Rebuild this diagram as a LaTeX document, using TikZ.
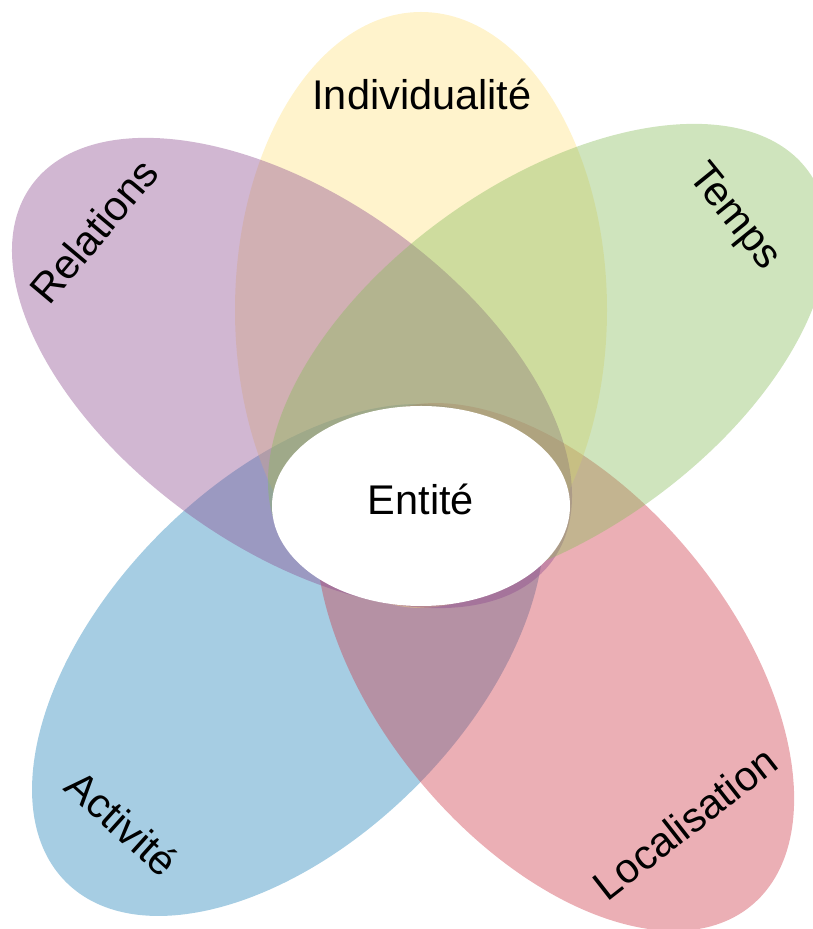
\documentclass[tikz,border=0pt]{standalone}
\usepackage{fontspec}
\setmainfont{Liberation Sans}
\usetikzlibrary{shapes.geometric}

\definecolor{actcol}{RGB}{32,130,185}
\definecolor{loccol}{RGB}{205,55,70}
\definecolor{indcol}{RGB}{255,225,128}
\definecolor{relcol}{RGB}{140,75,142}
\definecolor{tpscol}{RGB}{135,187,90}

\begin{document}
\begin{tikzpicture}[x=1pt, y=1pt,
    petal/.style={fill=#1, fill opacity=.4},
    petal label/.style={font=\fontsize{41.5}{49}\selectfont,
                        text height=29.5pt, text depth=0pt, inner sep=0pt}]
 \useasboundingbox (0,0) rectangle (812,929);
 % petals, back to front: x/y of centre, radii, angle, colour
 \foreach \cx/\cy/\a/\b/\ang/\col in {288/269/314/180/45/actcol,
                                      555/262/309/177/-50.6/loccol,
                                      421/619/186/298/0/indcol,
                                      292/556/321/175/-35.7/relcol,
                                      548/570/321/175/35.7/tpscol}
   \fill[petal=\col, shift={(\cx,\cy)}, rotate=\ang] (0,0) ellipse (\a pt and \b pt);
 % labels
 \node[petal label] (indiv) at (422,834) {Individualité};
 \node[petal label, rotate=50] (relations) at (93.5,698) {Relations};
 \node[petal label, rotate=-51] (temps) at (737,714.5) {Temps};
 \node[petal label, rotate=-42] (activite) at (122,106) {Activité};
 \node[petal label, rotate=38] (localisation) at (685,106) {Localisation};
 % centre
 \node[ellipse, fill=white, minimum width=298pt, minimum height=200pt,
       petal label, text depth=13pt] (entite) at (421,423) {Entité};
\end{tikzpicture}
\end{document}
